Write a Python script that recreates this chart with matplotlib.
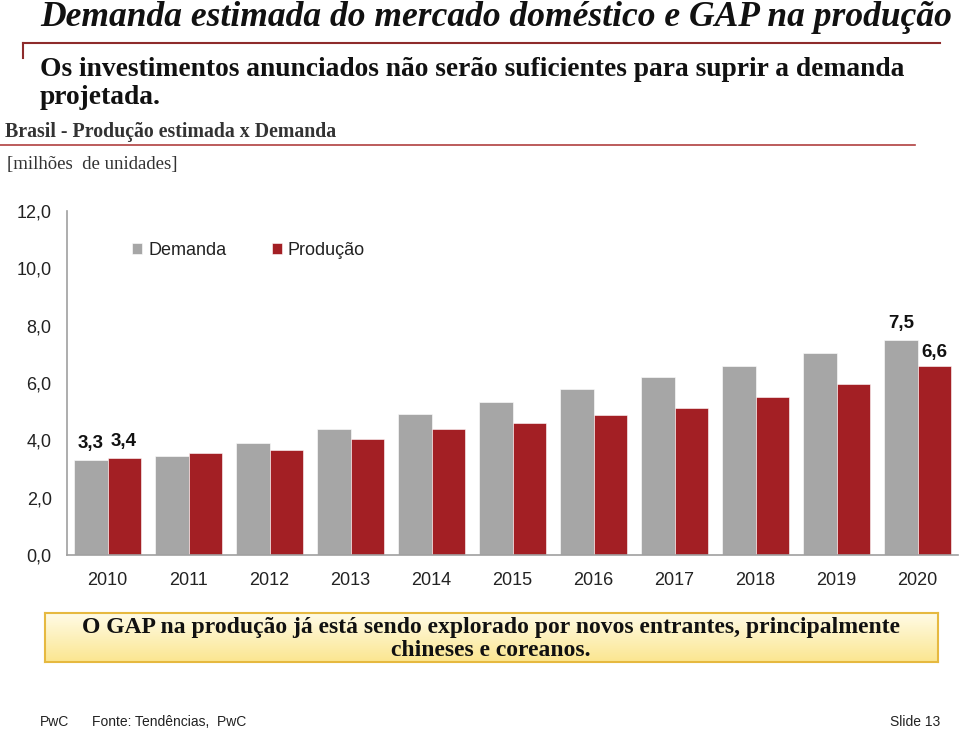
import matplotlib
matplotlib.use("Agg")
import matplotlib.pyplot as plt
import numpy as np
from matplotlib.lines import Line2D
from matplotlib.colors import LinearSegmentedColormap

years = ["2010", "2011", "2012", "2013", "2014", "2015", "2016", "2017", "2018", "2019", "2020"]
demanda = [3.3, 3.46, 3.91, 4.41, 4.92, 5.34, 5.78, 6.21, 6.60, 7.05, 7.5]
producao = [3.4, 3.56, 3.66, 4.06, 4.38, 4.59, 4.89, 5.14, 5.52, 5.98, 6.6]
yticks = [0, 2, 4, 6, 8, 10, 12]
ytick_labels = ["0,0", "2,0", "4,0", "6,0", "8,0", "10,0", "12,0"]

W, H = 960, 731
fig = plt.figure(figsize=(9.6, 7.31), dpi=100)
fig.patch.set_facecolor("white")

def fx(px):
    return px / W

def fy(py):
    return 1 - py / H

serif = ["Liberation Serif", "DejaVu Serif"]
sans = ["Liberation Sans", "DejaVu Sans"]
red_line = "#8e2b2b"
gray = "#a6a6a6"
red = "#a31f24"

# Title
fig.text(fx(40), fy(18), "Demanda estimada do mercado doméstico e GAP na produção",
         family=serif, style="italic", weight="bold", fontsize=25.6, color="#111111",
         va="center", ha="left")
# top red line with tick
fig.add_artist(Line2D([fx(23), fx(940)], [fy(43), fy(43)], color=red_line, lw=1.5))
fig.add_artist(Line2D([fx(23), fx(23)], [fy(43), fy(58)], color=red_line, lw=1.5))
# Subtitle
fig.text(fx(40), fy(69), "Os investimentos anunciados não serão suficientes para suprir a demanda",
         family=serif, weight="bold", fontsize=19.8, color="#111111", va="center", ha="left")
fig.text(fx(40), fy(97), "projetada.",
         family=serif, weight="bold", fontsize=19.8, color="#111111", va="center", ha="left")
# Chart title
fig.text(fx(5), fy(132), "Brasil - Produção estimada x Demanda",
         family=serif, weight="bold", fontsize=14.3, color="#333333", va="center", ha="left")
fig.add_artist(Line2D([fx(0), fx(915)], [fy(145), fy(145)], color="#b04040", lw=1.2))
fig.text(fx(7), fy(164), "[milhões  de unidades]",
         family=serif, fontsize=13.5, color="#333333", va="center", ha="left")

# Axes
ax_left, ax_right, ax_top, ax_bottom = 67, 958, 211, 555
ax = fig.add_axes([fx(ax_left), fy(ax_bottom), fx(ax_right - ax_left), (ax_bottom - ax_top) / H])
x = np.arange(len(years))
bw = 0.41
ax.bar(x - bw / 2, demanda, width=bw, color=gray, label="Demanda", edgecolor="white", linewidth=0.4)
ax.bar(x + bw / 2, producao, width=bw, color=red, label="Produção", edgecolor="white", linewidth=0.4)
ax.set_xlim(-0.5, len(years) - 0.5)
ax.set_ylim(0, 12)
ax.set_yticks(yticks)
ax.set_yticklabels(ytick_labels, family=sans, fontsize=13, color="#222222")
ax.set_xticks(x)
ax.set_xticklabels(years, family=sans, fontsize=13, color="#222222")
ax.tick_params(axis="both", length=0)
ax.tick_params(axis="y", pad=11)
ax.tick_params(axis="x", pad=12)
for s in ["top", "right"]:
    ax.spines[s].set_visible(False)
ax.spines["left"].set_color("#a0a0a0")
ax.spines["bottom"].set_color("#a0a0a0")
ax.spines["left"].set_linewidth(1.2)
ax.spines["bottom"].set_linewidth(1.2)
ax.set_facecolor("none")

# value labels
lbl_kw = dict(family=sans, weight="bold", fontsize=13.5, color="#111111", ha="center", va="bottom")
ax.text(x[0] - bw / 2, demanda[0] + 0.28, "3,3", **lbl_kw)
ax.text(x[0] + bw / 2, producao[0] + 0.25, "3,4", **lbl_kw)
ax.text(x[-1] - bw / 2, demanda[-1] + 0.28, "7,5", **lbl_kw)
ax.text(x[-1] + bw / 2, producao[-1] + 0.15, "6,6", **lbl_kw)

leg = ax.legend(loc="upper left", bbox_to_anchor=(0.065, 0.93), ncol=2, frameon=False,
                prop={"family": sans, "size": 13}, handlelength=0.55, handleheight=0.55,
                handletextpad=0.35, columnspacing=2.5, borderaxespad=0)
for t in leg.get_texts():
    t.set_color("#222222")

# Yellow gradient box
bx0, bx1, by0, by1 = 45, 938, 613, 662
grad_ax = fig.add_axes([fx(bx0), fy(by1), fx(bx1 - bx0), (by1 - by0) / H])
grad = np.linspace(0, 1, 100).reshape(-1, 1)
cmap = LinearSegmentedColormap.from_list("yel", ["#fffbe6", "#fbe690"])
grad_ax.imshow(grad, aspect="auto", cmap=cmap, extent=[0, 1, 0, 1], origin="upper")
grad_ax.set_xticks([])
grad_ax.set_yticks([])
for s in grad_ax.spines.values():
    s.set_color("#e6b940")
    s.set_linewidth(1.5)
fig.text(fx(491), fy(628), "O GAP na produção já está sendo explorado por novos entrantes, principalmente",
         family=serif, weight="bold", fontsize=17, color="#111111", ha="center", va="center")
fig.text(fx(491), fy(651), "chineses e coreanos.",
         family=serif, weight="bold", fontsize=17, color="#111111", ha="center", va="center")

# Footer
fig.text(fx(40), fy(722), "PwC", family=sans, fontsize=10, color="#222222", va="center")
fig.text(fx(92), fy(722), "Fonte: Tendências,  PwC", family=sans, fontsize=10, color="#222222", va="center")
fig.text(fx(940), fy(722), "Slide 13", family=sans, fontsize=10, color="#222222", va="center", ha="right")

fig.savefig("out.png", dpi=100, facecolor="white")
